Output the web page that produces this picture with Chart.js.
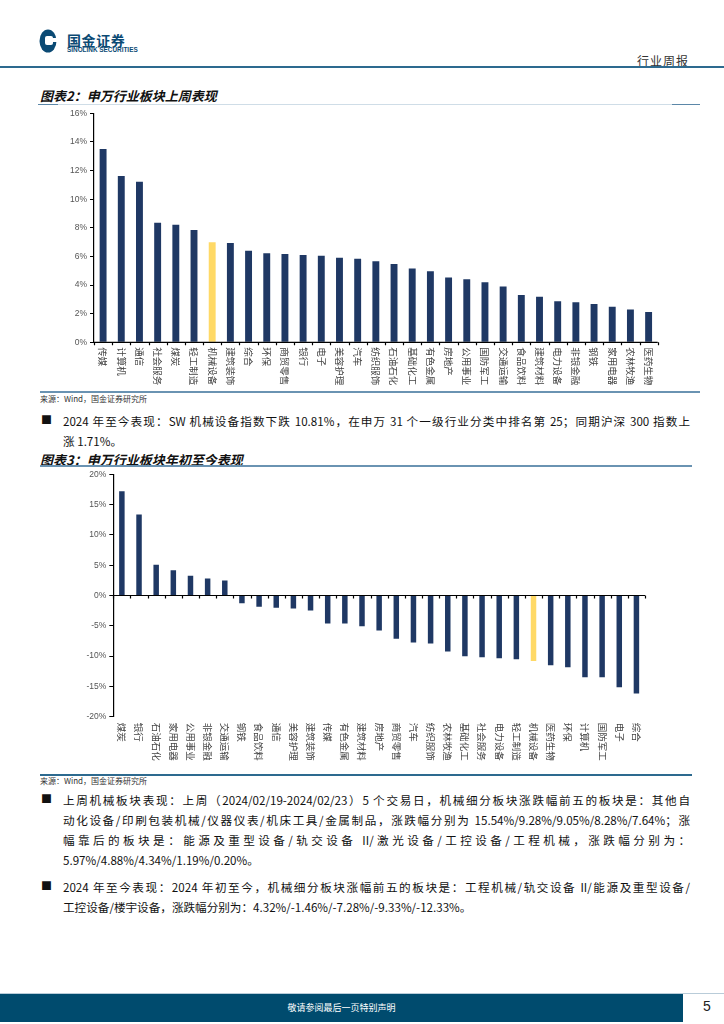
<!DOCTYPE html>
<html>
<head>
<meta charset="utf-8">
<script src="https://cdn.jsdelivr.net/npm/chart.js@4.4.1/dist/chart.umd.min.js"></script>
<style>
body { margin: 0; width: 724px; height: 1024px; position: relative; background: #fff; font-family: "Noto Sans CJK SC", "Liberation Sans", sans-serif; overflow: hidden; }
.abs { position: absolute; }
.brand { left: 67px; top: 30px; font-size: 14px; font-weight: bold; color: #0b4a74; letter-spacing: 0.6px; }
.brand-en { left: 67px; top: 46px; font-size: 6.4px; font-weight: bold; color: #0b4a74; font-family: "Liberation Sans", sans-serif; }
.kind { left: 637px; top: 52px; font-size: 12px; color: #333; letter-spacing: 1px; }
.title { left: 40px; font-size: 13px; font-weight: bold; font-style: italic; color: #111; }
.src { left: 40px; font-size: 8px; color: #333; }
.para { left: 40px; width: 650px; font-size: 11.6px; color: #111; }
.para .b { position: absolute; left: 1px; top: 0; font-size: 11px; }
.para .ln { margin-left: 23px; height: 20px; line-height: 20px; white-space: nowrap; text-align: justify; text-align-last: justify; }
.para .ln.last { text-align-last: left; }
.box { position: absolute; }
</style>
</head>
<body>
<!-- header -->
<svg class="abs" style="left:39px;top:29px" width="18" height="24" viewBox="0 0 18 24">
  <ellipse cx="9" cy="12" rx="8.5" ry="11.5" fill="#0b4a74"/>
  <rect x="6" y="7" width="8" height="9" rx="2" fill="#fff"/>
  <rect x="14" y="9" width="4" height="4" fill="#fff"/>
</svg>
<div class="abs brand">国金证券</div>
<div class="abs brand-en">SINOLINK SECURITIES</div>
<div class="abs kind">行业周报</div>
<div class="abs" style="left:0;top:66px;width:724px;height:1.5px;background:#2d6a8f"></div>

<!-- chart 2 block -->
<div class="abs title" style="top:86px">图表2：申万行业板块上周表现</div>
<div class="abs" style="left:40px;top:104px;width:660px;height:1px;background:#cfdde7"></div>
<div class="abs" style="left:38px;top:103.5px;width:20px;height:1.5px;background:#5b87a8"></div>
<div class="abs" style="left:672px;top:103.5px;width:28px;height:1.5px;background:#5b87a8"></div>
<div class="box" style="left:40px;top:105px;width:640px;height:283px"><canvas id="weekChart"></canvas></div>
<div class="abs" style="left:40px;top:391px;width:660px;height:2px;background:#6a93b2"></div>
<div class="abs src" style="top:393px">来源：Wind，国金证券研究所</div>

<div class="abs para" style="top:411px">
  <span class="b">■</span>
  <div class="ln">2024 年至今表现：SW 机械设备指数下跌 10.81%，在申万 31 个一级行业分类中排名第 25；同期沪深 300 指数上</div>
  <div class="ln last">涨 1.71%。</div>
</div>

<!-- chart 3 block -->
<div class="abs title" style="top:450px">图表3：申万行业板块年初至今表现</div>
<div class="abs" style="left:40px;top:465px;width:652px;height:1.5px;background:#6a93b2"></div>
<div class="box" style="left:40px;top:466px;width:640px;height:305px"><canvas id="ytdChart"></canvas></div>
<div class="abs" style="left:40px;top:774px;width:652px;height:1.5px;background:#2d6a8f"></div>
<div class="abs src" style="top:775px">来源：Wind，国金证券研究所</div>

<div class="abs para" style="top:790px">
  <span class="b">■</span>
  <div class="ln">上周机械板块表现：上周（2024/02/19-2024/02/23）5 个交易日，机械细分板块涨跌幅前五的板块是：其他自</div>
  <div class="ln">动化设备/印刷包装机械/仪器仪表/机床工具/金属制品，涨跌幅分别为 15.54%/9.28%/9.05%/8.28%/7.64%；涨</div>
  <div class="ln">幅靠后的板块是：能源及重型设备/轨交设备 II/激光设备/工控设备/工程机械，涨跌幅分别为：</div>
  <div class="ln last">5.97%/4.88%/4.34%/1.19%/0.20%。</div>
</div>

<div class="abs para" style="top:877px">
  <span class="b">■</span>
  <div class="ln">2024 年至今表现：2024 年初至今，机械细分板块涨幅前五的板块是：工程机械/轨交设备 II/能源及重型设备/</div>
  <div class="ln last">工控设备/楼宇设备，涨跌幅分别为：4.32%/-1.46%/-7.28%/-9.33%/-12.33%。</div>
</div>

<!-- footer -->
<div class="abs" style="left:0;top:993px;width:724px;height:1px;background:#b9ccd9"></div>
<div class="abs" style="left:0;top:994px;width:683px;height:28px;background:#004b6e;color:#fff;font-size:9px;line-height:28px;text-align:center">敬请参阅最后一页特别声明</div>
<div class="abs" style="left:703px;top:998px;font-size:14px;color:#222;font-family:'Liberation Sans',sans-serif">5</div>

<script>
// 上周表现
var weekLabels = ['传媒', '计算机', '通信', '社会服务', '煤炭', '轻工制造', '机械设备', '建筑装饰', '综合', '环保', '商贸零售', '银行', '电子', '美容护理', '汽车', '纺织服饰', '石油石化', '基础化工', '有色金属', '房地产', '公用事业', '国防军工', '交通运输', '食品饮料', '建筑材料', '电力设备', '非银金融', '钢铁', '家用电器', '农林牧渔', '医药生物'];
var weekValues = [13.50, 11.62, 11.22, 8.36, 8.22, 7.85, 6.99, 6.94, 6.40, 6.22, 6.17, 6.10, 6.05, 5.91, 5.84, 5.66, 5.47, 5.15, 4.96, 4.52, 4.40, 4.19, 3.89, 3.31, 3.19, 2.86, 2.79, 2.68, 2.49, 2.30, 2.12];
var weekTicks = { min: 0, max: 16, step: 2 };

// 年初至今表现
var ytdLabels = ['煤炭', '银行', '石油石化', '家用电器', '公用事业', '非银金融', '交通运输', '钢铁', '食品饮料', '通信', '美容护理', '建筑装饰', '传媒', '有色金属', '建筑材料', '房地产', '商贸零售', '汽车', '纺织服饰', '农林牧渔', '基础化工', '社会服务', '电力设备', '轻工制造', '机械设备', '医药生物', '环保', '计算机', '国防军工', '电子', '综合'];
var ytdValues = [17.20, 13.37, 5.06, 4.18, 3.25, 2.80, 2.48, -1.26, -1.87, -2.04, -2.15, -2.48, -4.62, -4.62, -5.06, -5.78, -7.15, -7.76, -7.92, -9.24, -10.01, -10.18, -10.34, -10.51, -10.81, -11.50, -11.83, -13.48, -13.48, -15.13, -16.17];
var ytdTicks = { min: -20, max: 20, step: 5 };

var highlight = '机械设备';

// x 轴：零线、刻度和竖排标签（从上往下读）
var axisLabels = {
    id: 'axisLabels',
    afterDraw(chart, args, opts) {
        var x = chart.scales.x, y = chart.scales.y, ctx = chart.ctx, area = chart.chartArea;
        var y0 = y.getPixelForValue(0);
        var n = chart.data.labels.length;
        ctx.save();
        ctx.strokeStyle = '#000';
        ctx.lineWidth = 1.2;
        ctx.beginPath();
        ctx.moveTo(area.left, y0);
        ctx.lineTo(area.right, y0);
        for (var i = 0; i <= n; i++) {
            var px = Math.round(area.left + i * (area.right - area.left) / n) + 0.5;
            ctx.moveTo(px, y0);
            ctx.lineTo(px, y0 + 3);
        }
        ctx.stroke();
        ctx.font = opts.font;
        ctx.fillStyle = '#444';
        ctx.textAlign = 'left';
        ctx.textBaseline = 'middle';
        chart.data.labels.forEach(function (lab, i) {
            ctx.save();
            ctx.translate(x.getPixelForValue(i), area.bottom + opts.gap);
            ctx.rotate(Math.PI / 2);
            ctx.fillText(lab, 0, 0);
            ctx.restore();
        });
        ctx.restore();
    }
};

function makeChart(id, labels, values, ticks, cfg) {
    return new Chart(document.getElementById(id), {
        type: 'bar',
        data: {
            labels: labels,
            datasets: [{
                data: values,
                backgroundColor: function (c) {
                    return labels[c.dataIndex] === highlight ? '#ffd966' : '#1f3864';
                },
                borderWidth: 0,
                barPercentage: cfg.bar,
                categoryPercentage: 1
            }]
        },
        options: {
            responsive: true,
            maintainAspectRatio: false,
            animation: false,
            layout: { padding: { top: 8.3, right: cfg.right, left: 0, bottom: 0 } },
            plugins: {
                legend: { display: false },
                tooltip: { enabled: false },
                axisLabels: { font: '9.5px "Noto Sans CJK SC"', gap: cfg.gap }
            },
            scales: {
                x: {
                    grid: { display: false },
                    border: { display: false },
                    ticks: { display: false },
                    afterFit: function (s) { s.height = cfg.xh; }
                },
                y: {
                    min: ticks.min,
                    max: ticks.max,
                    ticks: {
                        stepSize: ticks.step,
                        color: '#555',
                        padding: 3,
                        font: { family: 'Liberation Sans', size: 8.5 },
                        callback: function (v) { return v + '%'; }
                    },
                    grid: { drawOnChartArea: false, drawTicks: true, tickLength: 4, tickColor: '#000' },
                    border: { display: true, color: '#000', width: 1.2 },
                    afterFit: function (s) { s.width = cfg.yw; }
                }
            }
        },
        plugins: [axisLabels]
    });
}

makeChart('weekChart', weekLabels, weekValues, weekTicks, { bar: 0.38, right: 22.3, xh: 45.7, yw: 54, gap: 5 });
makeChart('ytdChart', ytdLabels, ytdValues, ytdTicks, { bar: 0.32, right: 35, xh: 54.3, yw: 73.3, gap: 6 });
</script>
</body>
</html>
